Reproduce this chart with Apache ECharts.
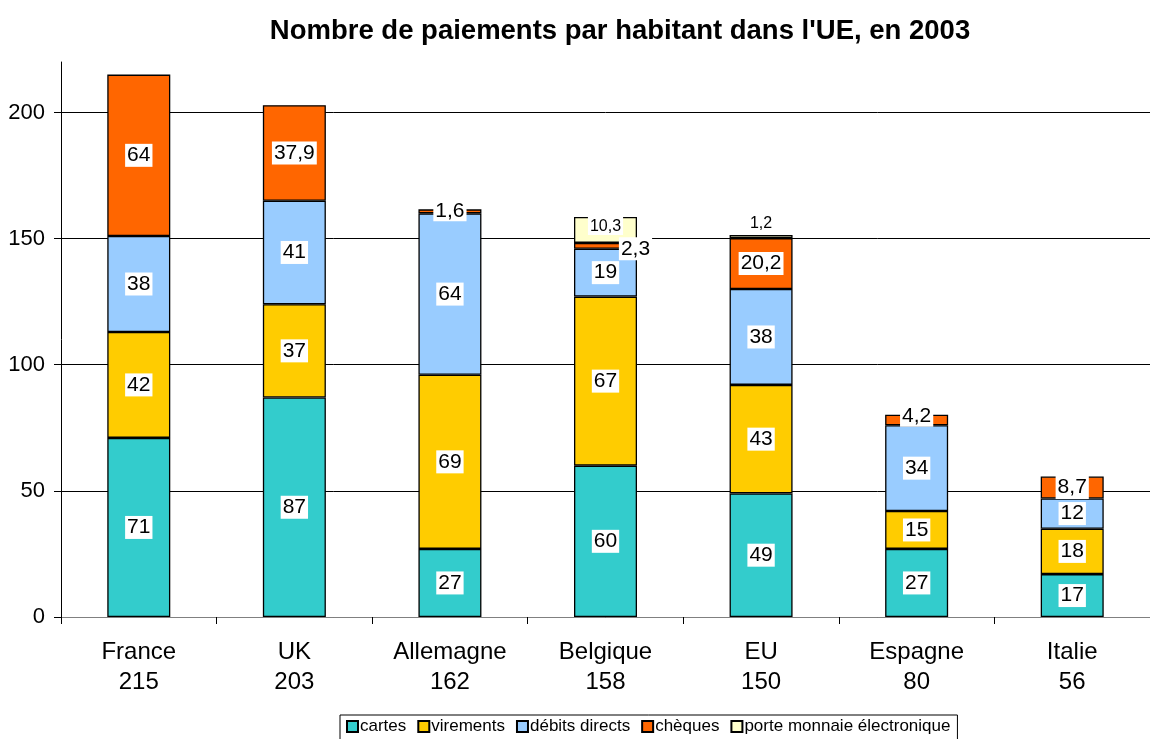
<!DOCTYPE html>
<html><head><meta charset="utf-8">
<script src="https://cdn.jsdelivr.net/npm/echarts@6/dist/echarts.min.js"></script>
<style>html,body{margin:0;padding:0;background:#fff}#c{width:1150px;height:739px}</style>
</head><body><div id="c"></div>
<script>
const countries = ['France','UK','Allemagne','Belgique','EU','Espagne','Italie'];
const totals = [215,203,162,158,150,80,56];
const cartes = [71,87,27,60,49,27,17];
const virements = [42,37,69,67,43,15,18];
const debits = [38,41,64,19,38,34,12];
const cheques = [64,37.9,1.6,2.3,20.2,4.2,8.7];
const porte = [null,null,null,10.3,1.2,null,null];
const seriesNames = ['cartes','virements','débits directs','chèques','porte monnaie électronique'];
const colors = ['#33CCCC','#FFCC00','#99CCFF','#FF6600','#FFFFCC'];

const FONT = '"Liberation Sans", Arial, sans-serif';
const fmt = v => String(v).replace('.', ',');
const baseLabel = {
  show: true, position: 'inside', color: '#000', fontSize: 21, fontFamily: FONT,
  backgroundColor: '#fff', padding: [2, 2, 0, 2],
  formatter: p => fmt(p.value)
};
const special = {
  '3_2': {position: 'top', distance: -12},
  '3_3': {position: 'inside', offset: [30, 3]},
  '3_5': {position: 'top', distance: -12},
  '4_3': {position: 'insideTop', distance: 0, fontSize: 16},
  '4_4': {position: 'top', distance: 3, fontSize: 16}
};
const all = [cartes, virements, debits, cheques, porte];
const series = all.map((arr, si) => ({
  name: seriesNames[si], type: 'bar', stack: 'total', barWidth: 63,
  itemStyle: {color: colors[si], borderColor: '#000', borderWidth: 1.3},
  label: baseLabel,
  data: arr.map((v, ci) => {
    const s = special[si + '_' + ci];
    return s ? {value: v, label: Object.assign({}, baseLabel, s)} : v;
  })
}));

const chart = echarts.init(document.getElementById('c'));
chart.setOption({
  animation: false,
  title: {
    text: "Nombre de paiements par habitant dans l'UE, en 2003",
    left: 615, top: 12, textAlign: 'center',
    textStyle: {fontSize: 27.5, fontWeight: 'bold', color: '#000', fontFamily: FONT}
  },
  legend: {
    left: 340, top: 715, itemWidth: 11, itemHeight: 11, itemGap: 11,
    icon: 'rect', borderColor: '#000', borderWidth: 1, padding: [3, 7, 8, 6],
    textStyle: {fontSize: 17, color: '#000', fontFamily: FONT, padding: [0, 0, 0, -3]},
    data: seriesNames
  },
  grid: {left: 61, right: 0, top: 62, bottom: 122},
  xAxis: {
    type: 'category', data: countries,
    axisLine: {lineStyle: {color: '#808080', width: 1}},
    axisTick: {show: true, length: 7, lineStyle: {color: '#000'}},
    axisLabel: {
      color: '#000', fontSize: 24, fontFamily: FONT, lineHeight: 30, margin: 20,
      formatter: (v, i) => v + '\n' + totals[i]
    }
  },
  yAxis: {
    type: 'value', min: 0, max: 220, interval: 50,
    axisLine: {show: true, lineStyle: {color: '#000'}},
    axisTick: {show: true, length: 7, lineStyle: {color: '#000'}},
    axisLabel: {color: '#000', fontSize: 22, fontFamily: FONT, margin: 16, showMaxLabel: false},
    splitLine: {show: true, showMaxLine: false, lineStyle: {color: '#000', width: 1}}
  },
  series: series
});
</script></body></html>
